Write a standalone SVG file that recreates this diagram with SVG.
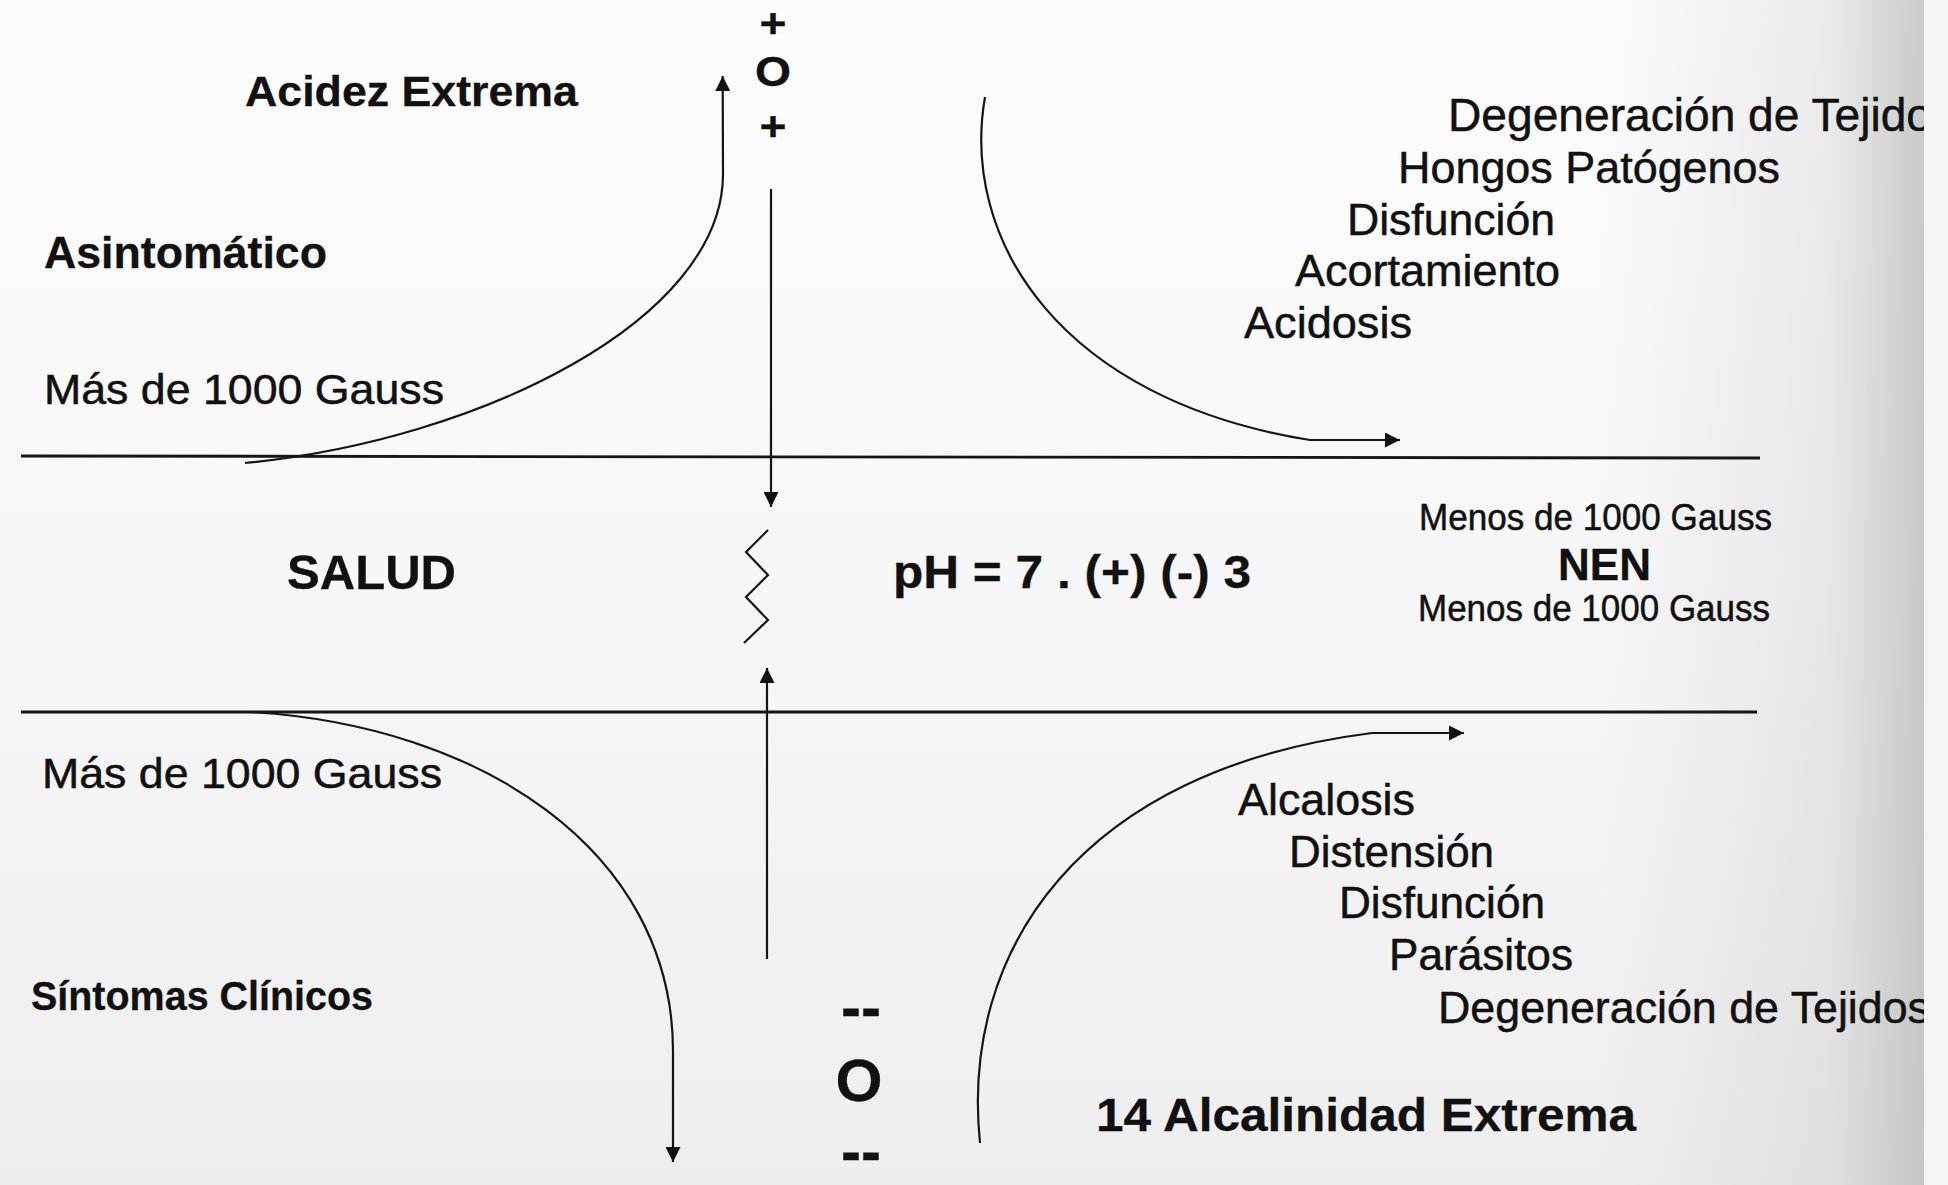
<svg xmlns="http://www.w3.org/2000/svg" width="1948" height="1185" viewBox="0 0 1948 1185">
  <style>
    text { font-family: "Liberation Sans", Arial, sans-serif; fill: #111; stroke: #111; stroke-width: 0.5; }
    .b { font-weight: bold; stroke-width: 0.3; }
    .ln { stroke: #151515; stroke-width: 2.8; fill: none; }
    .cv { stroke: #151515; stroke-width: 2.2; fill: none; }
    .arr { marker-end: url(#ah); }
  </style>
  <defs>
    <marker id="ah" markerUnits="userSpaceOnUse" markerWidth="16" markerHeight="15" refX="15" refY="7.5" orient="auto">
      <path d="M0,0 L15,7.5 L0,15 Z" fill="#111"/>
    </marker>
    <linearGradient id="bgv" x1="0" y1="0" x2="0" y2="1">
      <stop offset="0" stop-color="#fcfcfc"/>
      <stop offset="0.5" stop-color="#f7f7f7"/>
      <stop offset="1" stop-color="#eeeeee"/>
    </linearGradient>
    <linearGradient id="bgh" x1="1600" y1="0" x2="1924" y2="0" gradientUnits="userSpaceOnUse">
      <stop offset="0" stop-color="#b8b8b8" stop-opacity="0"/>
      <stop offset="0.7" stop-color="#b8b8b8" stop-opacity="0.25"/>
      <stop offset="1" stop-color="#a8a8a8" stop-opacity="0.6"/>
    </linearGradient>
    <clipPath id="edge">
      <rect x="0" y="0" width="1924" height="1185"/>
    </clipPath>
  </defs>

  <rect x="0" y="0" width="1948" height="1185" fill="url(#bgv)"/>
  <rect x="1600" y="0" width="324" height="1185" fill="url(#bgh)"/>
  <rect x="1924" y="0" width="24" height="1185" fill="#f5f5f5"/>

  <g id="connectors">
    <line class="ln" x1="21" y1="456" x2="1760" y2="458"/>
    <line class="ln" x1="21" y1="712" x2="1757" y2="712"/>
    <path class="cv arr" d="M245,463 C480,440 722,320 723,175 L722.7,76"/>
    <path class="cv arr" d="M985,97 C960,240 1060,400 1310,440 L1400,440"/>
    <path class="cv arr" d="M250,712 C480,725 672,850 673,1050 L673,1162"/>
    <path class="cv arr" d="M980,1143 C960,950 1080,770 1372,733 L1464,733"/>
    <path class="cv arr" d="M771,189 L771,507"/>
    <path class="cv arr" d="M767,959 L767,668"/>
    <path class="cv" d="M768,530 L746,552 L768,575 L746,597 L768,620 L744,643"/>
  </g>

  <g id="top-pole">
    <text class="b" x="773" y="37" font-size="40" text-anchor="middle" textLength="27" lengthAdjust="spacingAndGlyphs">+</text>
    <text class="b" x="773" y="86" font-size="42" text-anchor="middle" textLength="36" lengthAdjust="spacingAndGlyphs">O</text>
    <text class="b" x="773" y="140" font-size="40" text-anchor="middle" textLength="27" lengthAdjust="spacingAndGlyphs">+</text>
  </g>

  <g id="bottom-pole">
    <text class="b" x="861" y="1028" font-size="62" text-anchor="middle" textLength="40" lengthAdjust="spacingAndGlyphs">--</text>
    <text class="b" x="859" y="1101" font-size="60" text-anchor="middle" textLength="47" lengthAdjust="spacingAndGlyphs">O</text>
    <text class="b" x="861" y="1172" font-size="62" text-anchor="middle" textLength="40" lengthAdjust="spacingAndGlyphs">--</text>
  </g>

  <g id="acidez-extrema">
    <text class="b" x="245" y="106" font-size="43" textLength="333" lengthAdjust="spacingAndGlyphs">Acidez Extrema</text>
  </g>
  <g id="asintomatico">
    <text class="b" x="44" y="268" font-size="44" textLength="283" lengthAdjust="spacingAndGlyphs">Asintomático</text>
  </g>
  <g id="mas-gauss-top">
    <text x="44" y="404" font-size="42" textLength="400" lengthAdjust="spacingAndGlyphs">Más de 1000 Gauss</text>
  </g>
  <g id="salud">
    <text class="b" x="287" y="589" font-size="48" textLength="169" lengthAdjust="spacingAndGlyphs">SALUD</text>
  </g>
  <g id="ph">
    <text class="b" x="893" y="588" font-size="46" textLength="358" lengthAdjust="spacingAndGlyphs">pH = 7 . (+) (-) 3</text>
  </g>
  <g id="mas-gauss-bottom">
    <text x="42" y="788" font-size="42" textLength="400" lengthAdjust="spacingAndGlyphs">Más de 1000 Gauss</text>
  </g>
  <g id="sintomas-clinicos">
    <text class="b" x="31" y="1010" font-size="40" textLength="342" lengthAdjust="spacingAndGlyphs">Síntomas Clínicos</text>
  </g>
  <g id="alcalinidad-extrema">
    <text class="b" x="1096" y="1131" font-size="46" textLength="540" lengthAdjust="spacingAndGlyphs">14 Alcalinidad Extrema</text>
  </g>

  <g id="acid-list">
    <text x="1448" y="131" font-size="46" textLength="484" lengthAdjust="spacingAndGlyphs" clip-path="url(#edge)">Degeneración de Tejido</text>
    <text x="1398" y="183" font-size="45" textLength="382" lengthAdjust="spacingAndGlyphs">Hongos Patógenos</text>
    <text x="1347" y="235" font-size="45" textLength="208" lengthAdjust="spacingAndGlyphs">Disfunción</text>
    <text x="1295" y="286" font-size="45" textLength="265" lengthAdjust="spacingAndGlyphs">Acortamiento</text>
    <text x="1244" y="338" font-size="45" textLength="168" lengthAdjust="spacingAndGlyphs">Acidosis</text>
  </g>

  <g id="nen">
    <text x="1419" y="530" font-size="36" textLength="353" lengthAdjust="spacingAndGlyphs">Menos de 1000 Gauss</text>
    <text class="b" x="1558" y="580" font-size="44" textLength="93" lengthAdjust="spacingAndGlyphs">NEN</text>
    <text x="1418" y="621" font-size="36" textLength="352" lengthAdjust="spacingAndGlyphs">Menos de 1000 Gauss</text>
  </g>

  <g id="alkali-list">
    <text x="1238" y="815" font-size="44" textLength="177" lengthAdjust="spacingAndGlyphs">Alcalosis</text>
    <text x="1289" y="867" font-size="44" textLength="205" lengthAdjust="spacingAndGlyphs">Distensión</text>
    <text x="1339" y="918" font-size="44" textLength="206" lengthAdjust="spacingAndGlyphs">Disfunción</text>
    <text x="1389" y="970" font-size="44" textLength="184" lengthAdjust="spacingAndGlyphs">Parásitos</text>
    <text x="1438" y="1023" font-size="44" textLength="492" lengthAdjust="spacingAndGlyphs" clip-path="url(#edge)">Degeneración de Tejidos</text>
  </g>
</svg>
